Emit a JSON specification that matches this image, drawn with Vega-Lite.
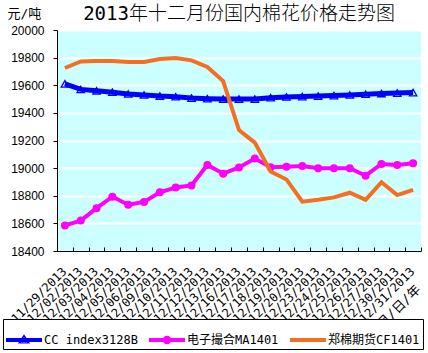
{
  "$schema": "https://vega.github.io/schema/vega-lite/v6.json",
  "width": 364,
  "height": 221,
  "autosize": {"type": "none"},
  "padding": {"left": 57, "top": 30, "right": 7, "bottom": 102},
  "background": "white",
  "config": {
    "view": {"fill": "#CCFFFF", "stroke": null},
    "font": "DejaVu Sans Mono, Noto Sans CJK SC"
  },
  "title": {
    "text": "2013年十二月份国内棉花价格走势图",
    "font": "'DejaVu Sans Mono', 'Noto Sans CJK SC'",
    "fontSize": 19,
    "fontWeight": 300,
    "color": "black",
    "anchor": "middle",
    "frame": "group",
    "baseline": "middle",
    "offset": 0,
    "dy": 26
  },
  "data": {
    "values": [
      {"date": "11/29/2013", "series": "CC index3128B", "value": 19610},
      {"date": "12/02/2013", "series": "CC index3128B", "value": 19570},
      {"date": "12/03/2013", "series": "CC index3128B", "value": 19560},
      {"date": "12/04/2013", "series": "CC index3128B", "value": 19550},
      {"date": "12/05/2013", "series": "CC index3128B", "value": 19537},
      {"date": "12/06/2013", "series": "CC index3128B", "value": 19530},
      {"date": "12/09/2013", "series": "CC index3128B", "value": 19522},
      {"date": "12/10/2013", "series": "CC index3128B", "value": 19517},
      {"date": "12/11/2013", "series": "CC index3128B", "value": 19507},
      {"date": "12/12/2013", "series": "CC index3128B", "value": 19503},
      {"date": "12/13/2013", "series": "CC index3128B", "value": 19500},
      {"date": "12/16/2013", "series": "CC index3128B", "value": 19500},
      {"date": "12/17/2013", "series": "CC index3128B", "value": 19500},
      {"date": "12/18/2013", "series": "CC index3128B", "value": 19510},
      {"date": "12/19/2013", "series": "CC index3128B", "value": 19515},
      {"date": "12/20/2013", "series": "CC index3128B", "value": 19518},
      {"date": "12/23/2013", "series": "CC index3128B", "value": 19522},
      {"date": "12/24/2013", "series": "CC index3128B", "value": 19525},
      {"date": "12/25/2013", "series": "CC index3128B", "value": 19530},
      {"date": "12/26/2013", "series": "CC index3128B", "value": 19535},
      {"date": "12/27/2013", "series": "CC index3128B", "value": 19540},
      {"date": "12/30/2013", "series": "CC index3128B", "value": 19543},
      {"date": "12/31/2013", "series": "CC index3128B", "value": 19547},
      {"date": "11/29/2013", "series": "电子撮合MA1401", "value": 18585},
      {"date": "12/02/2013", "series": "电子撮合MA1401", "value": 18620},
      {"date": "12/03/2013", "series": "电子撮合MA1401", "value": 18710},
      {"date": "12/04/2013", "series": "电子撮合MA1401", "value": 18793},
      {"date": "12/05/2013", "series": "电子撮合MA1401", "value": 18735},
      {"date": "12/06/2013", "series": "电子撮合MA1401", "value": 18755},
      {"date": "12/09/2013", "series": "电子撮合MA1401", "value": 18825},
      {"date": "12/10/2013", "series": "电子撮合MA1401", "value": 18860},
      {"date": "12/11/2013", "series": "电子撮合MA1401", "value": 18875},
      {"date": "12/12/2013", "series": "电子撮合MA1401", "value": 19023},
      {"date": "12/13/2013", "series": "电子撮合MA1401", "value": 18960},
      {"date": "12/16/2013", "series": "电子撮合MA1401", "value": 19005},
      {"date": "12/17/2013", "series": "电子撮合MA1401", "value": 19070},
      {"date": "12/18/2013", "series": "电子撮合MA1401", "value": 19007},
      {"date": "12/19/2013", "series": "电子撮合MA1401", "value": 19010},
      {"date": "12/20/2013", "series": "电子撮合MA1401", "value": 19015},
      {"date": "12/23/2013", "series": "电子撮合MA1401", "value": 19000},
      {"date": "12/24/2013", "series": "电子撮合MA1401", "value": 19000},
      {"date": "12/25/2013", "series": "电子撮合MA1401", "value": 19000},
      {"date": "12/26/2013", "series": "电子撮合MA1401", "value": 18945},
      {"date": "12/27/2013", "series": "电子撮合MA1401", "value": 19030},
      {"date": "12/30/2013", "series": "电子撮合MA1401", "value": 19023},
      {"date": "12/31/2013", "series": "电子撮合MA1401", "value": 19035},
      {"date": "11/29/2013", "series": "郑棉期货CF1401", "value": 19725},
      {"date": "12/02/2013", "series": "郑棉期货CF1401", "value": 19772},
      {"date": "12/03/2013", "series": "郑棉期货CF1401", "value": 19775},
      {"date": "12/04/2013", "series": "郑棉期货CF1401", "value": 19775},
      {"date": "12/05/2013", "series": "郑棉期货CF1401", "value": 19768},
      {"date": "12/06/2013", "series": "郑棉期货CF1401", "value": 19768},
      {"date": "12/09/2013", "series": "郑棉期货CF1401", "value": 19790},
      {"date": "12/10/2013", "series": "郑棉期货CF1401", "value": 19797},
      {"date": "12/11/2013", "series": "郑棉期货CF1401", "value": 19780},
      {"date": "12/12/2013", "series": "郑棉期货CF1401", "value": 19732},
      {"date": "12/13/2013", "series": "郑棉期货CF1401", "value": 19630},
      {"date": "12/16/2013", "series": "郑棉期货CF1401", "value": 19275},
      {"date": "12/17/2013", "series": "郑棉期货CF1401", "value": 19185},
      {"date": "12/18/2013", "series": "郑棉期货CF1401", "value": 18975},
      {"date": "12/19/2013", "series": "郑棉期货CF1401", "value": 18918},
      {"date": "12/20/2013", "series": "郑棉期货CF1401", "value": 18757},
      {"date": "12/23/2013", "series": "郑棉期货CF1401", "value": 18771},
      {"date": "12/24/2013", "series": "郑棉期货CF1401", "value": 18788},
      {"date": "12/25/2013", "series": "郑棉期货CF1401", "value": 18822},
      {"date": "12/26/2013", "series": "郑棉期货CF1401", "value": 18771},
      {"date": "12/27/2013", "series": "郑棉期货CF1401", "value": 18898},
      {"date": "12/30/2013", "series": "郑棉期货CF1401", "value": 18805},
      {"date": "12/31/2013", "series": "郑棉期货CF1401", "value": 18842}
    ]
  },
  "encoding": {
    "x": {
      "field": "date",
      "type": "ordinal",
      "sort": null,
      "bandPosition": 0.5,
      "scale": {"type": "band", "paddingInner": 0, "paddingOuter": 0},
      "axis": {
        "title": "月/日/年",
        "titleFont": "'DejaVu Sans Mono', 'Noto Sans CJK SC'",
        "titleFontSize": 13,
        "titleFontWeight": "normal",
        "titleColor": "black",
        "titleAngle": -45,
        "titleAlign": "right",
        "titleBaseline": "middle",
        "titleX": 361,
        "titleY": 36,
        "domainColor": "black",
        "domainWidth": 1,
        "tickColor": "black",
        "tickSize": -4,
        "tickBand": "extent",
        "grid": false,
        "labelAngle": -45,
        "labelAlign": "right",
        "labelBaseline": "middle",
        "labelFont": "'DejaVu Sans Mono', 'Noto Sans CJK SC'",
        "labelFontSize": 12,
        "labelColor": "black",
        "labelPadding": 22,
        "labelOffset": -1,
        "labelOverlap": false,
        "labelBound": false,
        "labelFlush": false
      }
    },
    "y": {
      "field": "value",
      "type": "quantitative",
      "scale": {"domain": [18400, 20000], "nice": false, "zero": false},
      "axis": {
        "values": [18400, 18600, 18800, 19000, 19200, 19400, 19600, 19800, 20000],
        "title": "元/吨",
        "titleFont": "'DejaVu Sans Mono', 'Noto Sans CJK SC'",
        "titleFontSize": 13,
        "titleFontWeight": "normal",
        "titleColor": "black",
        "titleAngle": 0,
        "titleAlign": "left",
        "titleBaseline": "middle",
        "titleX": -50,
        "titleY": -17,
        "format": "d",
        "labelFont": "Liberation Sans",
        "labelFontSize": 12,
        "labelColor": "black",
        "labelPadding": 9,
        "domainColor": "black",
        "tickColor": "black",
        "tickSize": 4,
        "grid": true,
        "gridColor": "white",
        "gridWidth": 2,
        "gridOpacity": 1
      }
    },
    "color": {
      "field": "series",
      "type": "nominal",
      "scale": {
        "domain": ["CC index3128B", "电子撮合MA1401", "郑棉期货CF1401"],
        "range": ["#0000FF", "#FF00FF", "#F47020"]
      },
      "legend": {
        "orient": "none",
        "legendX": -54,
        "legendY": 289,
        "direction": "horizontal",
        "title": null,
        "strokeColor": "black",
        "fillColor": "white",
        "padding": 3,
        "symbolType": "stroke",
        "symbolSize": 1296,
        "symbolStrokeWidth": 4,
        "labelFont": "'DejaVu Sans Mono', 'Noto Sans CJK SC'",
        "labelFontSize": 12,
        "labelColor": "black",
        "labelOffset": 2,
        "columnPadding": 11,
        "encode": {
          "symbols": {
            "update": {
              "shape": {"signal": "datum.value === 'CC index3128B' ? 'M-1,-0.11H1V0.11H-1ZM0,-0.32L0.34,0.2L-0.34,0.2ZM0,-0.15L-0.18,0.12L0.18,0.12Z' : datum.value === '电子撮合MA1401' ? 'M-1,-0.11H1V0.11H-1ZM-0.24,0A0.24,0.24 0 1,1 0.24,0A0.24,0.24 0 1,1 -0.24,0Z' : 'M-1,-0.11H1V0.11H-1Z'"},
              "fill": {"signal": "scale('color', datum.value)"},
              "strokeWidth": {"value": 0}
            }
          }
        }
      }
    }
  },
  "layer": [
    {
      "transform": [{"filter": "datum.series === 'CC index3128B'"}],
      "mark": {"type": "line", "strokeWidth": 5}
    },
    {
      "transform": [{"filter": "datum.series === 'CC index3128B'"}],
      "mark": {"type": "point", "shape": "triangle-up", "filled": false, "stroke": "#0000FF", "strokeWidth": 1.3, "size": 55, "opacity": 1},
      "encoding": {"color": {"value": "#0000FF"}}
    },
    {
      "transform": [{"filter": "datum.series === '电子撮合MA1401'"}],
      "mark": {"type": "line", "strokeWidth": 4}
    },
    {
      "transform": [{"filter": "datum.series === '电子撮合MA1401'"}],
      "mark": {"type": "point", "shape": "circle", "filled": true, "size": 64, "opacity": 1},
      "encoding": {"color": {"value": "#FF00FF"}}
    },
    {
      "transform": [{"filter": "datum.series === '郑棉期货CF1401'"}],
      "mark": {"type": "line", "strokeWidth": 4}
    }
  ]
}
